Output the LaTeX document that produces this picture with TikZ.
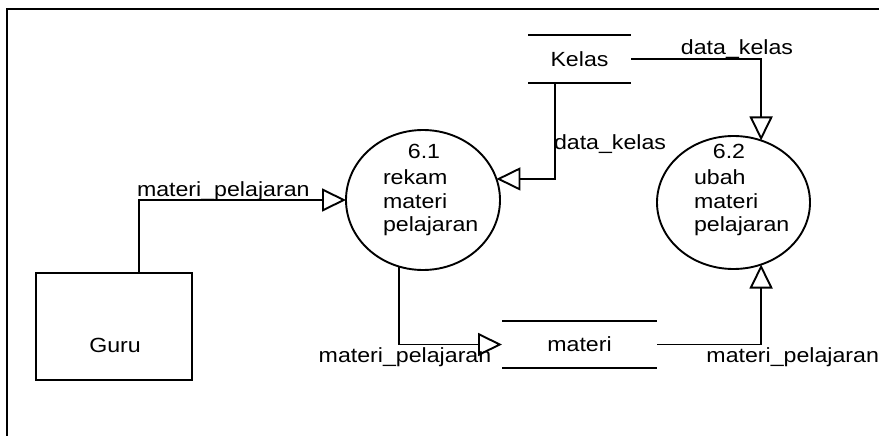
\documentclass[tikz,border=0pt]{standalone}
\usepackage{fontspec}
\setmainfont{Liberation Sans}[FakeStretch=1.13]
\usetikzlibrary{arrows.meta,shapes.geometric}
\begin{document}
\begin{tikzpicture}[x=1pt,y=-1pt,
  every node/.style={font=\fontsize{20.5}{23.5}\selectfont, inner sep=0pt, outer sep=0pt},
  line/.style={line width=1.9pt},
  flow/.style={line, -{Triangle[open,length=24pt,width=23pt,line width=1.9pt]}},
  proc/.style={draw, ellipse, line width=1.9pt},
  store/.style={minimum width=#1, minimum height=47pt}]
\useasboundingbox (0,0) rectangle (879,436);
% frame
\draw[line] (7,436) -- (7,9) -- (879,9);
% entities
\node[draw, line width=1.9pt, minimum width=156pt, minimum height=107pt] (guru) at (114,326.5) {};
\node (gurutxt) at (115,345) {Guru};
% processes
\node[proc, minimum width=154pt, minimum height=140pt] (p61) at (423,200) {};
\node (p61num) at (424,151) {6.1};
\node[align=left, anchor=west] (p61txt) at (383,203) {rekam\\materi\\pelajaran};
\node[proc, minimum width=153pt, minimum height=133pt] (p62) at (733.5,202.5) {};
\node (p62num) at (729,151) {6.2};
\node[align=left, anchor=west] (p62txt) at (694,203) {ubah\\materi\\pelajaran};
% stores
\node[store=103pt, minimum height=48pt] (kelas) at (579.5,59) {Kelas};
\draw[line] (kelas.north west) -- (kelas.north east) (kelas.south west) -- (kelas.south east);
\node[store=155pt] (materi) at (579.5,344.5) {materi};
\draw[line] (materi.north west) -- (materi.north east) (materi.south west) -- (materi.south east);
% flows
\draw[flow] ([xshift=25pt]guru.north) |- (p61.west);
\node[anchor=west] (l1) at (137,191) {materi\_pelajaran};
\draw[flow] ([xshift=-24.5pt]kelas.south) |- (p61.16.8);
\node[anchor=west] (l2) at (554,144) {data\_kelas};
\draw[flow] (kelas.east) -| (p62.66.1);
\node (l3) at (737,49) {data\_kelas};
\draw[flow] (p61.250.2) |- (materi.west);
\node (l4) at (405,357) {materi\_pelajaran};
\draw[flow] (materi.east) -| (p62.-66.1);
\node[anchor=east] (l5) at (879,357) {materi\_pelajaran};
\end{tikzpicture}
\end{document}
